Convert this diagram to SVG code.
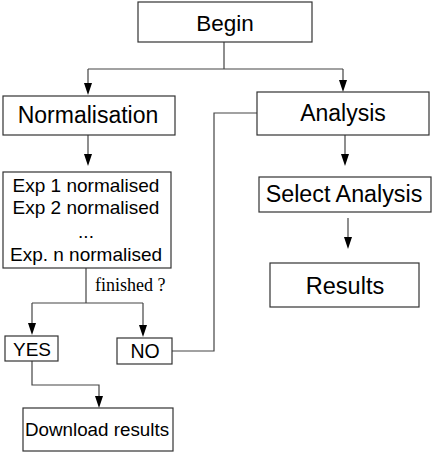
<svg xmlns="http://www.w3.org/2000/svg" width="432" height="453" viewBox="0 0 432 453">
<defs>
<style>
.box{fill:#fff;stroke:#333;stroke-width:1.2}
.t{font-family:"Liberation Sans",Arial,sans-serif;fill:#000;text-anchor:middle}
.c{fill:none;stroke:#444;stroke-width:1.2}
.a{fill:#000}
</style>
</defs>
<rect width="432" height="453" fill="#fff"/>
<g id="connectors">
<path class="c" d="M224,42 V69 M88,69 H343"/>
<path class="c" d="M88,69 V83"/>
<path class="a" d="M84,83 L92,83 L88,95 Z"/>
<path class="c" d="M343,69 V80"/>
<path class="a" d="M339,80 L347,80 L343,92 Z"/>
<path class="c" d="M88,135 V154"/>
<path class="a" d="M84,154 L92,154 L88,166 Z"/>
<path class="c" d="M86,268 V303 M32,303 H143"/>
<path class="c" d="M32,303 V323"/>
<path class="a" d="M28,323 L36,323 L32,335 Z"/>
<path class="c" d="M143,303 V325"/>
<path class="a" d="M139,325 L147,325 L143,337 Z"/>
<path class="c" d="M172,351 H214 V113 H257"/>
<path class="c" d="M32,361 V385 H99 V396"/>
<path class="a" d="M95,396 L103,396 L99,408 Z"/>
<path class="c" d="M345,135 V154"/>
<path class="a" d="M341,154 L349,154 L345,166 Z"/>
<path class="c" d="M348,218 V237"/>
<path class="a" d="M344,237 L352,237 L348,249 Z"/>
</g>
<g id="begin">
<rect class="box" x="138" y="2" width="174" height="40"/>
<text class="t" x="225" y="31" font-size="22.5">Begin</text>
</g>
<g id="normalisation">
<rect class="box" x="3" y="96" width="172" height="39"/>
<text class="t" x="88" y="123" font-size="23">Normalisation</text>
</g>
<g id="analysis">
<rect class="box" x="257" y="92" width="172" height="43"/>
<text class="t" x="343" y="121" font-size="23">Analysis</text>
</g>
<g id="experiments">
<rect class="box" x="3" y="172" width="168" height="96"/>
<text class="t" x="86" y="192" font-size="19">Exp 1 normalised</text>
<text class="t" x="86" y="214" font-size="19">Exp 2 normalised</text>
<text class="t" x="86" y="238" font-size="19">...</text>
<text class="t" x="86" y="261" font-size="19">Exp. n normalised</text>
</g>
<g id="finished">
<text x="95" y="291" font-family="'Liberation Serif','Times New Roman',serif" font-size="18" fill="#000">finished ?</text>
</g>
<g id="select-analysis">
<rect class="box" x="259" y="177" width="172" height="35"/>
<text class="t" x="344" y="202" font-size="23.3">Select Analysis</text>
</g>
<g id="results">
<rect class="box" x="270" y="263" width="149" height="44"/>
<text class="t" x="345" y="294" font-size="23.5">Results</text>
</g>
<g id="yes">
<rect class="box" x="5" y="336" width="53" height="25"/>
<text class="t" x="32" y="356" font-size="19">YES</text>
</g>
<g id="no">
<rect class="box" x="117" y="338" width="55" height="26"/>
<text class="t" x="145" y="358" font-size="19.5">NO</text>
</g>
<g id="download">
<rect class="box" x="23" y="408" width="150" height="43"/>
<text class="t" x="97" y="436" font-size="18.8">Download results</text>
</g>
</svg>
